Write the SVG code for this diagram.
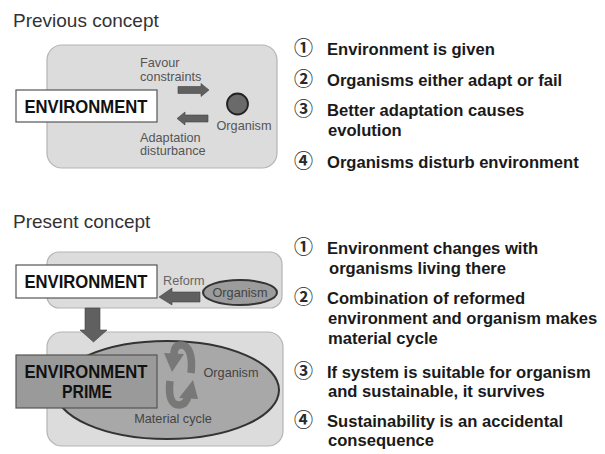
<svg xmlns="http://www.w3.org/2000/svg" width="605" height="454" viewBox="0 0 605 454">
  <style>
    .title { font-family: "Liberation Sans", Arial, sans-serif; font-size: 19px; fill: #333; }
    .panel { fill: #dcdcdc; stroke: #b4b4b4; stroke-width: 1.2; }
    .box { stroke: #555; stroke-width: 1.2; }
    .boxtext { font-family: "Liberation Sans", Arial, sans-serif; font-size: 18px; font-weight: bold; fill: #111; text-anchor: middle; }
    .small { font-family: "Liberation Sans", Arial, sans-serif; font-size: 12.7px; fill: #555; }
    .list { font-family: "Liberation Sans", Arial, sans-serif; font-size: 16.6px; font-weight: bold; fill: #1a1a1a; }
    .num { font-family: "Noto Sans CJK JP", "DejaVu Sans", sans-serif; font-size: 19px; font-weight: bold; fill: #2a2a2a; }
    .arrow { fill: #606060; stroke: #444; stroke-width: 0.6; }
    .cycle { fill: none; stroke: #787878; stroke-width: 7.5; }
    .cyclehead { fill: #787878; }
  </style>

  <!-- Section titles -->
  <text class="title" x="13" y="27">Previous concept</text>
  <text class="title" x="13" y="228">Present concept</text>

  <!-- Previous concept: panel -->
  <g id="prev-panel">
    <rect class="panel" x="47" y="45" width="230" height="123" rx="15"/>
  </g>
  <g id="prev-environment">
    <rect class="box" x="16" y="90" width="141" height="32" fill="#fff"/>
    <text class="boxtext" x="86" y="113" textLength="123" lengthAdjust="spacingAndGlyphs">ENVIRONMENT</text>
  </g>
  <g id="prev-organism">
    <circle cx="237.5" cy="104" r="10.5" fill="#6a6a6a" stroke="#222" stroke-width="1.8"/>
    <text class="small" x="244" y="130" text-anchor="middle">Organism</text>
  </g>

  <!-- Previous concept: arrows between environment and organism -->
  <g id="prev-connectors">
    <polygon class="arrow" points="178,86.5 201,86.5 201,83.5 209,90 201,96.5 201,93.5 178,93.5"/>
    <polygon class="arrow" points="208,115 185,115 185,112 177,118.5 185,125 185,122 208,122"/>
    <text class="small" x="140" y="67">Favour</text>
    <text class="small" x="140" y="81">constraints</text>
    <text class="small" x="140" y="142">Adaptation</text>
    <text class="small" x="140" y="155">disturbance</text>
  </g>

  <!-- Previous concept: list -->
  <g id="prev-list">
    <text class="num" x="294" y="55">①</text>
    <text class="list" x="327" y="55">Environment is given</text>
    <text class="num" x="294" y="86">②</text>
    <text class="list" x="327" y="86">Organisms either adapt or fail</text>
    <text class="num" x="294" y="116">③</text>
    <text class="list" x="327" y="116">Better adaptation causes</text>
    <text class="list" x="328" y="136">evolution</text>
    <text class="num" x="294" y="168">④</text>
    <text class="list" x="327" y="168">Organisms disturb environment</text>
  </g>

  <!-- Present concept: upper panel -->
  <g id="pres-panel-top">
    <rect class="panel" x="47" y="252" width="235" height="56" rx="12"/>
  </g>
  <g id="pres-environment">
    <rect class="box" x="16" y="265" width="141" height="33" fill="#fff"/>
    <text class="boxtext" x="86" y="288" textLength="123" lengthAdjust="spacingAndGlyphs">ENVIRONMENT</text>
  </g>
  <g id="pres-organism">
    <ellipse cx="240" cy="292.5" rx="37" ry="12.5" fill="#9c9c9c" stroke="#333" stroke-width="2"/>
    <text class="small" x="240" y="297" text-anchor="middle" style="fill:#444">Organism</text>
  </g>

  <!-- Present concept: lower panel -->
  <g id="pres-panel-bottom">
    <rect class="panel" x="47" y="332" width="236" height="114" rx="15"/>
  </g>
  <g id="pres-system">
    <ellipse cx="167" cy="390" rx="112" ry="49" fill="#a8a8a8" stroke="#333" stroke-width="2"/>
    <text class="small" x="231" y="377" text-anchor="middle" style="fill:#444">Organism</text>
    <text class="small" x="173" y="423" text-anchor="middle" style="fill:#444">Material cycle</text>
  </g>
  <g id="pres-environment-prime">
    <rect class="box" x="16" y="355" width="141" height="53" fill="#9a9a9a"/>
    <text class="boxtext" x="86" y="378" textLength="123" lengthAdjust="spacingAndGlyphs">ENVIRONMENT</text>
    <text class="boxtext" x="87" y="398" textLength="50" lengthAdjust="spacingAndGlyphs">PRIME</text>
  </g>

  <!-- Present concept: connectors -->
  <g id="pres-connectors">
    <!-- Reform: organism back to environment -->
    <polygon class="arrow" points="200,292 172,292 172,288 159,297 172,305 172,302 200,302"/>
    <text class="small" x="163" y="285" style="fill:#666">Reform</text>
    <!-- environment becomes environment prime -->
    <polygon class="arrow" points="85,308 100,308 100,330 107,330 93.5,342 80,330 85,330"/>
    <!-- material cycle -->
    <path class="cycle" d="M191,373 C193,356 189,345 181,345 C176,345 174,349 174,355"/>
    <polygon class="cyclehead" points="164,353 184,354 172,372"/>
    <path class="cycle" d="M170,381 C168,398 172,405 179,405 C184,405 187,401 188,396"/>
    <polygon class="cyclehead" points="179,398 198,399 193,380"/>
  </g>

  <!-- Present concept: list -->
  <g id="pres-list">
    <text class="num" x="294" y="254">①</text>
    <text class="list" x="327" y="254">Environment changes with</text>
    <text class="list" x="329" y="274">organisms living there</text>
    <text class="num" x="294" y="304">②</text>
    <text class="list" x="327" y="304">Combination of reformed</text>
    <text class="list" x="328" y="324">environment and organism makes</text>
    <text class="list" x="328" y="344">material cycle</text>
    <text class="num" x="294" y="378">③</text>
    <text class="list" x="327" y="378">If system is suitable for organism</text>
    <text class="list" x="328" y="397">and sustainable, it survives</text>
    <text class="num" x="294" y="427">④</text>
    <text class="list" x="327" y="427">Sustainability is an accidental</text>
    <text class="list" x="328" y="446">consequence</text>
  </g>
</svg>
